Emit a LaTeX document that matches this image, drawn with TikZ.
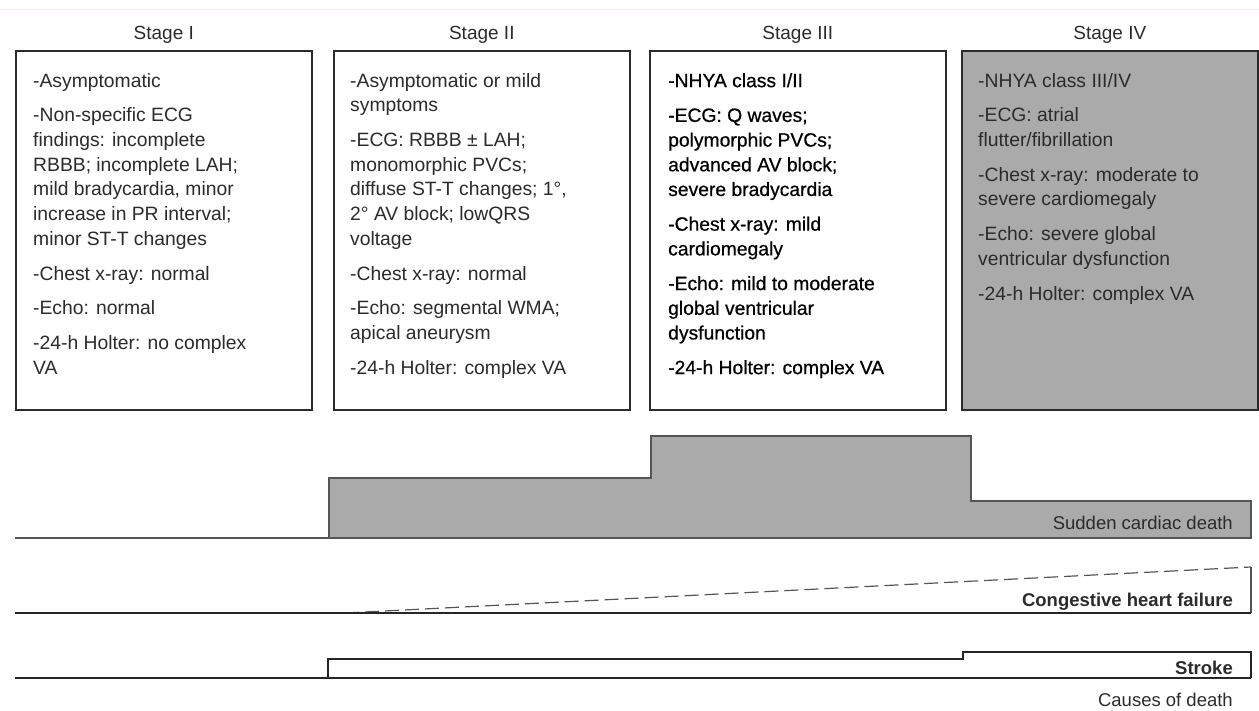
\documentclass[tikz,border=0pt]{standalone}
\usepackage{fontspec}
\setmainfont{Liberation Sans}
\newfontfamily\semibf[FakeBold=0.6]{Liberation Sans}
\usetikzlibrary{positioning}
\definecolor{panelgray}{HTML}{AAAAAA}
\definecolor{inkgray}{HTML}{2B2B2B}
\definecolor{edgegray}{HTML}{555555}
\definecolor{rulefaint}{HTML}{FFFF9E}

\begin{document}
\begin{tikzpicture}[
    x=1pt, y=-1pt,
    node distance=0pt,
    stagebox/.style={draw=inkgray, line width=1.6pt, minimum width=296pt,
                     minimum height=359pt, anchor=north west, inner sep=0pt},
    stagelab/.style={font=\fontsize{19}{22}\selectfont, text=inkgray, inner sep=0pt},
    findings/.style={anchor=north west, align=left, inner sep=0pt, text=inkgray,
                     font=\fontsize{19.3}{24.7}\selectfont},
    cause/.style={anchor=east, inner sep=0pt, text=inkgray,
                  font=\fontsize{18.5}{22}\selectfont},
    base/.style={line width=1.6pt, black!85},
    level/.style={line width=1.2pt, edgegray},
]
\useasboundingbox (0,0) rectangle (1259,711);
\draw[rulefaint, line width=1pt] (0,9.5) -- (1259,9.5);

% Stage boxes with their headings.
\foreach \i/\x/\lab/\col in {1/15/I/white,2/333/II/white,3/649/III/white,4/961/IV/panelgray} {
  \node[stagebox, fill=\col] (box\i) at (\x,50) {};
  \node[stagelab, above=6pt of box\i] (lab\i) {Stage \lab};
}

% Findings per stage.
\node[findings] (txt1) at ([shift={(18,23)}]box1.north west) {%
  -Asymptomatic\\[10pt]
  -Non-specific ECG\\
  findings: incomplete\\
  RBBB; incomplete LAH;\\
  mild bradycardia, minor\\
  increase in PR interval;\\
  minor ST-T changes\\[10pt]
  -Chest x-ray: normal\\[10pt]
  -Echo: normal\\[10pt]
  -24-h Holter: no complex\\
  VA};
\node[findings] (txt2) at ([shift={(17,23)}]box2.north west) {%
  -Asymptomatic or mild\\
  symptoms\\[10pt]
  -ECG: RBBB ± LAH;\\
  monomorphic PVCs;\\
  diffuse ST-T changes; 1°,\\
  2° AV block; lowQRS\\
  voltage\\[10pt]
  -Chest x-ray: normal\\[10pt]
  -Echo: segmental WMA;\\
  apical aneurysm\\[10pt]
  -24-h Holter: complex VA};
\node[findings, text=black, font=\semibf\fontsize{19.3}{24.7}\selectfont] (txt3)
  at ([shift={(19,23)}]box3.north west) {%
  -NHYA class I/II\\[10pt]
  -ECG: Q waves;\\
  polymorphic PVCs;\\
  advanced AV block;\\
  severe bradycardia\\[10pt]
  -Chest x-ray: mild\\
  cardiomegaly\\[10pt]
  -Echo: mild to moderate\\
  global ventricular\\
  dysfunction\\[10pt]
  -24-h Holter: complex VA};
\node[findings] (txt4) at ([shift={(17,23)}]box4.north west) {%
  -NHYA class III/IV\\[10pt]
  -ECG: atrial\\
  flutter/fibrillation\\[10pt]
  -Chest x-ray: moderate to\\
  severe cardiomegaly\\[10pt]
  -Echo: severe global\\
  ventricular dysfunction\\[10pt]
  -24-h Holter: complex VA};

% Sudden cardiac death profile.
\draw[level, fill=panelgray] (329,538) -- (329,478) -- (651,478) -- (651,436)
  -- (971,436) -- (971,501) -- (1251,501) -- (1251,538) -- cycle;
\draw[base, edgegray] (15,538) -- (329,538);
\node[cause] (scd) at (1233,523) {Sudden cardiac death};

% Congestive heart failure wedge.
\draw[level, dashed, dash pattern=on 14pt off 6pt] (345,613) -- (1251,567);
\draw[level] (1251,567) -- (1251,613);
\draw[base] (15,613) -- (1251,613);
\node[cause, font=\bfseries\fontsize{18.5}{22}\selectfont] (chf) at (1233,602) {Congestive heart failure};

% Stroke step.
\draw[base] (15,678) -- (1251,678);
\draw[base] (328,678) -- (328,659) -- (963,659) -- (963,652) -- (1251,652) -- (1251,678);
\node[cause, font=\bfseries\fontsize{18.5}{22}\selectfont] (stroke) at (1233,668) {Stroke};

\node[cause] (causes) at (1233,700) {Causes of death};
\end{tikzpicture}
\end{document}
